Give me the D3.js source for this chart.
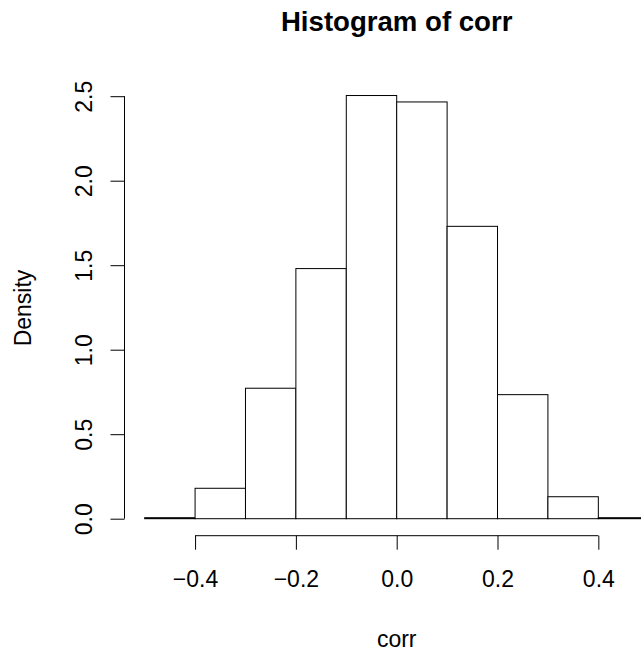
<!DOCTYPE html>
<html>
<head>
<meta charset="utf-8">
<script src="https://d3js.org/d3.v7.min.js"></script>
<style>
  body { margin: 0; background: white; }
  text { font-family: "Liberation Sans", Arial, Helvetica, sans-serif; fill: black; }
</style>
</head>
<body>
<script>
  // histogram of corr, bins of width 0.1
  var binStarts = [-0.5, -0.4, -0.3, -0.2, -0.1, 0.0, 0.1, 0.2, 0.3, 0.4];
  var binWidth = 0.1;
  var density = [0.006, 0.18, 0.772, 1.48, 2.504, 2.466, 1.73, 0.734, 0.13, 0.006];
  var xTicks = [-0.4, -0.2, 0.0, 0.2, 0.4];
  var yTicks = [0.0, 0.5, 1.0, 1.5, 2.0, 2.5];

  var width = 641, height = 651;
  var axisFont = "23px";

  var svg = d3.select("body").append("svg")
    .attr("width", width)
    .attr("height", height);

  svg.append("rect")
    .attr("width", width)
    .attr("height", height)
    .style("fill", "white");

  // plot region (R extends the range by 4%)
  var x = d3.scaleLinear().domain([-0.54, 0.54]).range([124.5, 668.9]);
  var y = d3.scaleLinear().domain([0, 2.5]).range([518.7, 96.2]);

  // bars
  svg.selectAll("rect.bar")
    .data(binStarts)
    .enter().append("rect")
    .attr("class", "bar")
    .attr("x", function(d) { return x(d); })
    .attr("y", function(d, i) { return y(density[i]); })
    .attr("width", function(d) { return x(d + binWidth) - x(d); })
    .attr("height", function(d, i) { return y(0) - y(density[i]); })
    .style("fill", "white")
    .style("stroke", "black")
    .style("stroke-width", 1);

  // x axis, line only between first and last tick
  var xAxis = svg.append("g")
    .attr("transform", "translate(0,535.7)")
    .call(d3.axisBottom(x).tickValues(xTicks).tickSize(14).tickSizeOuter(0)
      .tickFormat(function(d) { return d3.format(".1f")(d).replace("-", "\u2212"); }));
  xAxis.select(".domain")
    .attr("d", "M" + x(xTicks[0]) + ",0H" + x(xTicks[xTicks.length - 1]));
  xAxis.selectAll("line, path").style("stroke", "black");
  xAxis.selectAll("text")
    .attr("y", 51)
    .attr("dy", 0)
    .style("font-size", axisFont)
    .style("font-family", "Liberation Sans, Arial, sans-serif");

  // y axis, labels turned like R's las=0
  var yAxis = svg.append("g")
    .attr("transform", "translate(124.5,0)")
    .call(d3.axisLeft(y).tickValues(yTicks).tickSize(14).tickSizeOuter(0)
      .tickFormat(d3.format(".1f")));
  yAxis.select(".domain")
    .attr("d", "M0," + y(yTicks[0]) + "V" + y(yTicks[yTicks.length - 1]));
  yAxis.selectAll("line, path").style("stroke", "black");
  yAxis.selectAll(".tick text")
    .attr("x", 0)
    .attr("dy", 0)
    .attr("transform", "translate(-32.5,0) rotate(-90)")
    .attr("text-anchor", "middle")
    .style("font-size", axisFont)
    .style("font-family", "Liberation Sans, Arial, sans-serif");

  // titles
  svg.append("text")
    .attr("x", 396.7)
    .attr("y", 30.5)
    .attr("text-anchor", "middle")
    .style("font-size", "27.6px")
    .style("font-weight", "bold")
    .text("Histogram of corr");

  svg.append("text")
    .attr("x", 396.7)
    .attr("y", 647)
    .attr("text-anchor", "middle")
    .style("font-size", axisFont)
    .text("corr");

  svg.append("text")
    .attr("transform", "translate(31,308) rotate(-90)")
    .attr("text-anchor", "middle")
    .style("font-size", axisFont)
    .text("Density");
</script>
</body>
</html>
